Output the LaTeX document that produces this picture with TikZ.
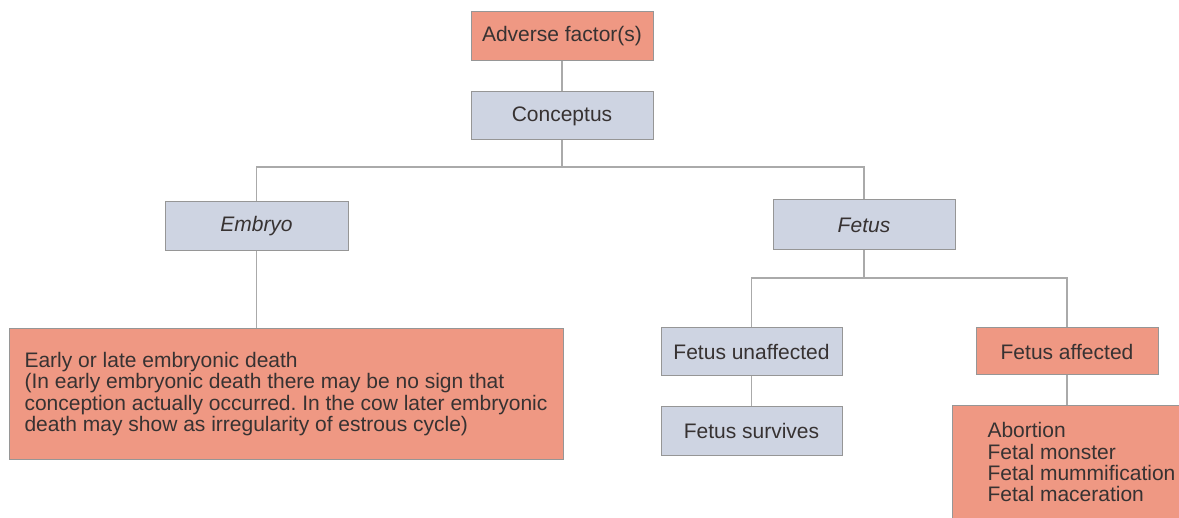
\documentclass[tikz,border=0pt]{standalone}
\usepackage{fontspec}
\setmainfont{Liberation Sans}
\definecolor{salmon}{RGB}{239,152,131}
\definecolor{bluegray}{RGB}{206,212,226}
\definecolor{txt}{RGB}{55,50,50}
\definecolor{edgegray}{RGB}{150,150,150}
\definecolor{linegray}{RGB}{170,170,170}
\begin{document}
\frenchspacing
\begin{tikzpicture}[x=0.5pt,y=-0.5pt,
  box/.style={draw=edgegray, line width=0.5pt, text=txt, inner sep=0pt,
    font=\fontsize{10.5}{11}\selectfont, align=center},
  redbox/.style={box, fill=salmon},
  bluebox/.style={box, fill=bluegray},
  conn/.style={draw=linegray, line width=0.6pt}]
\useasboundingbox (0,0) rectangle (1179,518);
\fill[white] (0,0) rectangle (1179,518);

\node[redbox, minimum width=91pt, minimum height=24.5pt] (adv) at (562,36.5) {Adverse factor(s)};
\node[bluebox, minimum width=91pt, minimum height=24pt] (con) at (562,116) {Conceptus};
\node[bluebox, minimum width=91.5pt, minimum height=24.5pt] (emb) at (256.5,226.5) {\itshape Embryo};
\node[bluebox, minimum width=91pt, minimum height=25pt] (fet) at (864,225) {\itshape Fetus};
\node[redbox, minimum width=277pt, minimum height=65pt, align=left,
  font=\fontsize{10.5}{10.75}\selectfont] (death) at (286,394)
  {Early or late embryonic death\\
   (In early embryonic death there may be no sign that\\
   conception actually occurred. In the cow later embryonic\\
   death may show as irregularity of estrous cycle)};
\node[bluebox, minimum width=90.5pt, minimum height=24pt] (unaff) at (751.5,352) {Fetus unaffected};
\node[bluebox, minimum width=90.5pt, minimum height=24pt] (surv) at (751.5,431) {Fetus survives};
\node[redbox, minimum width=91pt, minimum height=23.5pt] (aff) at (1067,351.5) {Fetus affected};
\node[box, draw=none, fill=salmon, minimum width=113pt, minimum height=56pt] (out) at (1066,462) {};
\draw[draw=edgegray, line width=0.5pt] (out.south west) |- (out.north east);
\node[box, draw=none, align=left, anchor=north west,
  font=\fontsize{10.5}{10.65}\selectfont] (outtxt) at (987,422)
  {Abortion\\Fetal monster\\Fetal mummification\\Fetal maceration};

\coordinate (j1) at (562,167);
\coordinate (j2) at (864,278);
\draw[conn] (adv.south) -- (con.north);
\draw[conn] (con.south) -- (j1);
\draw[conn] (j1) -| (emb.north);
\draw[conn] (j1) -| (fet.north);
\draw[conn] (emb.south) -- (emb.south |- death.north);
\draw[conn] (fet.south) -- (j2);
\draw[conn] (j2) -| (unaff.north);
\draw[conn] (j2) -| (aff.north);
\draw[conn] (unaff.south) -- (surv.north);
\draw[conn] (aff.south) -- (aff.south |- out.north);
\end{tikzpicture}
\end{document}
